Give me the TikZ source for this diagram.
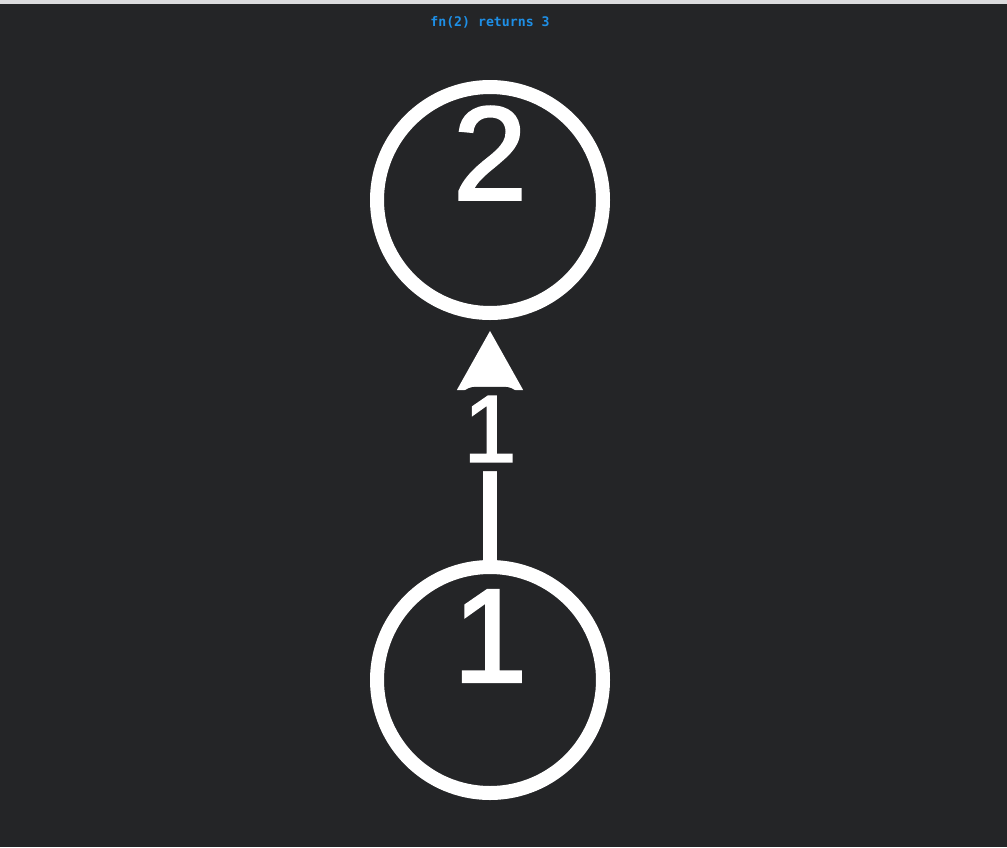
\documentclass[tikz,border=0pt]{standalone}
\usepackage{fontspec}
\setmainfont{Liberation Sans}
\newfontfamily\digitfont[FakeBold=2]{Liberation Sans}
\newfontfamily\titlemono{DejaVu Sans Mono}
\usetikzlibrary{arrows.meta}
\definecolor{bgc}{HTML}{242527}
\definecolor{barc}{HTML}{DCDCDE}
\definecolor{titlec}{HTML}{1E8FE6}
\begin{document}
\begin{tikzpicture}[x=1pt,y=-1pt,
  numcircle/.style={draw=white, line width=14pt, circle, minimum size=226pt, inner sep=0pt},
  numtext/.style={text=white, font=\digitfont\fontsize{133}{133}\selectfont, inner sep=0pt},
  edgelabel/.style={fill=bgc, text=white, font=\digitfont\fontsize{95}{95}\selectfont, rounded corners=18pt, inner xsep=6pt, inner ysep=9.5pt, minimum width=60pt, yshift=11pt},
  link/.style={draw=white, line width=14pt, -{Triangle[length=60pt,width=62pt]}, shorten >=10pt}
]
\fill[bgc] (0,0) rectangle (1007,847);
\fill[barc] (0,0) rectangle (1007,4);
\useasboundingbox (0,0) rectangle (1007,847);
\node[text=titlec, font=\titlemono\bfseries\fontsize{13.2}{14}\selectfont] (title) at (490,22) {fn(2) returns 3};
\node[numcircle, label={[numtext, yshift=47pt]center:2}] (n2) at (490,200) {};
\node[numcircle, label={[numtext, yshift=44pt]center:1}] (n1) at (490,680) {};
\draw[link] (n1) -- node[edgelabel] (el) {1} (n2);
\end{tikzpicture}
\end{document}
